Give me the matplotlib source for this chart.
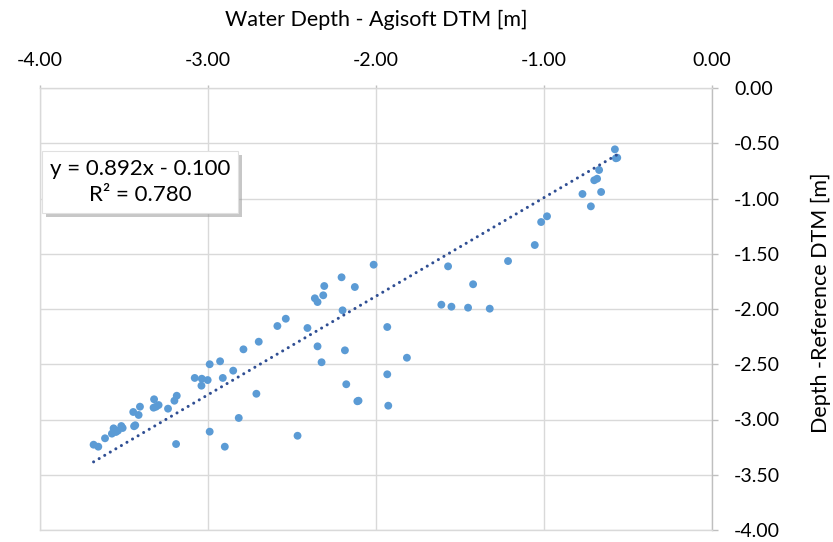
import matplotlib
matplotlib.use("Agg")
import matplotlib.pyplot as plt
import numpy as np
from matplotlib.patches import Rectangle

# Data (x: Agisoft DTM depth, y: reference DTM depth)
x_agisoft = [
    -0.578, -0.572, -0.564, -0.672, -0.684, -0.701, -0.660, -0.771, -0.721, -0.982, -1.017,
    -1.055, -1.214, -1.571, -1.422, -1.611, -1.551, -1.452, -1.323, -1.816,
    -2.014, -2.205, -2.308, -2.126, -2.314, -2.364, -2.348, -2.199, -2.537, -2.408,
    -2.348, -2.185, -2.324, -1.933, -1.933, -2.177, -2.111, -2.104, -1.927, -2.467,
    -2.587, -2.698, -2.789, -2.928, -2.990, -2.850, -2.912, -3.079, -3.037, -3.002,
    -3.039, -3.186, -3.200, -2.712, -2.817, -2.990,
    -3.238, -3.294, -3.321, -3.309, -3.324, -3.405, -3.445, -3.413, -3.433, -3.440,
    -3.508, -3.516, -3.562, -3.536, -3.548, -3.572, -3.613, -3.681, -3.653, -2.900, -3.190,
]
y_reference = [
    -0.555, -0.636, -0.631, -0.742, -0.821, -0.835, -0.941, -0.959, -1.071, -1.161, -1.213,
    -1.421, -1.566, -1.614, -1.776, -1.961, -1.979, -1.988, -1.997, -2.441,
    -1.599, -1.713, -1.792, -1.801, -1.876, -1.903, -1.937, -2.012, -2.088, -2.172,
    -2.338, -2.374, -2.482, -2.163, -2.591, -2.681, -2.835, -2.830, -2.875, -3.147,
    -2.154, -2.296, -2.365, -2.473, -2.500, -2.558, -2.624, -2.624, -2.631, -2.643,
    -2.694, -2.785, -2.830, -2.767, -2.986, -3.110,
    -2.902, -2.869, -2.817, -2.884, -2.893, -2.884, -2.932, -2.959, -3.052, -3.061,
    -3.077, -3.059, -3.080, -3.101, -3.113, -3.128, -3.170, -3.228, -3.246, -3.246, -3.222,
]
slope = 0.892
intercept = -0.100
r2 = 0.780

x_ticks = [-4.0, -3.0, -2.0, -1.0, 0.0]
y_ticks = [0.0, -0.5, -1.0, -1.5, -2.0, -2.5, -3.0, -3.5, -4.0]

plt.rcParams['font.family'] = ['Lato', 'DejaVu Sans']

W, H = 833, 542
fig = plt.figure(figsize=(W / 100, H / 100), dpi=100)
ax = fig.add_axes([40 / W, 1 - 530 / H, (712 - 40) / W, (530 - 88) / H])

grid_c = '#D9D9D9'
axis_c = '#BFBFBF'
ax.set_xlim(-4, 0)
ax.set_ylim(-4, 0)
ax.xaxis.tick_top()
ax.yaxis.tick_right()
ax.tick_params(axis='both', labelsize=14, labelcolor='#000000', color=axis_c,
               direction='out', width=1.0)
ax.tick_params(axis='x', length=2.5, pad=11.5)
ax.tick_params(axis='y', length=4.5, pad=11.5)
ax.set_xticks(x_ticks)
ax.set_yticks(y_ticks)
ax.set_xticklabels([f"{v:.2f}" for v in x_ticks])
ax.set_yticklabels([f"{v:.2f}" for v in y_ticks], ha='left')
ax.grid(True, color=grid_c, linewidth=1.0)
ax.set_axisbelow(True)
for s in ax.spines.values():
    s.set_color(grid_c)
    s.set_linewidth(1.0)
ax.spines['right'].set_color(axis_c)
ax.spines['top'].set_color(grid_c)

fig.text(376 / W, 1 - 20 / H, 'Water Depth - Agisoft DTM [m]', fontsize=15.5,
         ha='center', va='center')
fig.text(821 / W, 1 - 303 / H, 'Depth -Reference DTM [m]', fontsize=15.5,
         ha='center', va='center', rotation=90)

ax.scatter(x_agisoft, y_reference, s=32, color='#5B9BD5', edgecolors='none', zorder=3)

xs = np.linspace(min(x_agisoft), max(x_agisoft), 100)
ax.plot(xs, slope * xs + intercept, color='#2F4E93', linewidth=2.2,
        linestyle=(0, (0.01, 2.1)), dash_capstyle='round', zorder=4)

# Equation box with shadow
bx, by, bw, bh = 42, 151, 196, 62
shadow = Rectangle(((bx + 4) / W, 1 - (by + bh + 4) / H), bw / W, bh / H,
                   transform=fig.transFigure, facecolor='#9A9A9A', edgecolor='none',
                   alpha=0.55, zorder=5)
box = Rectangle((bx / W, 1 - (by + bh) / H), bw / W, bh / H,
                transform=fig.transFigure, facecolor='white', edgecolor='#E0E0E0',
                linewidth=0.8, zorder=6)
fig.patches.extend([shadow, box])
fig.text((bx + bw / 2) / W, 1 - (by + bh / 2) / H,
         f"y = {slope:.3f}x - {abs(intercept):.3f}\nR\u00b2 = {r2:.3f}",
         ha='center', va='center', fontsize=16, linespacing=1.35, zorder=7)

fig.savefig('out.png', dpi=100)
